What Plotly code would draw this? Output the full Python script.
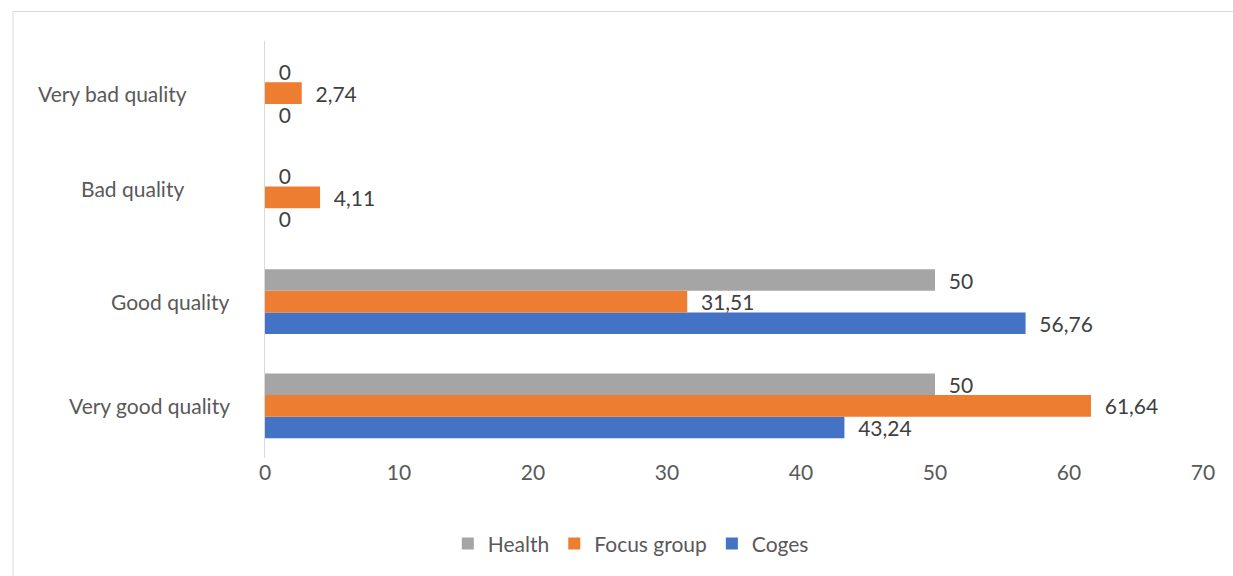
import plotly.graph_objects as go

# Response categories, bottom to top
categories = ["Very good quality", "Good quality", "Bad quality", "Very bad quality"]

# Percentages per group
health = [50, 50, 0, 0]
focus_group = [61.64, 31.51, 4.11, 2.74]
coges = [43.24, 56.76, 0, 0]

x_ticks = [0, 10, 20, 30, 40, 50, 60, 70]

FONT = "Lato"
SIZE = 21
PAD = "\u00a0\u00a0"

# Right edge (paper x) and vertical nudge of each category label
label_right = [-0.0352, -0.0352, -0.0842, -0.0810]
label_shift = [0, 0, 9, 0]


def fmt(v):
    return PAD + f"{v:g}".replace(".", ",")


series = [
    ("Coges", coges, "#4472C4"),
    ("Focus group", focus_group, "#ED7D31"),
    ("Health", health, "#A5A5A5"),
]

fig = go.Figure()
for name, vals, color in series:
    fig.add_trace(go.Bar(
        name=name,
        y=categories,
        x=vals,
        orientation="h",
        marker=dict(color=color, line=dict(width=0)),
        text=[fmt(v) for v in vals],
        textposition="outside",
        textfont=dict(family=FONT, size=SIZE, color="#404040"),
        constraintext="none",
        cliponaxis=False,
    ))

annotations = [
    dict(
        text=cat, xref="paper", yref="y", x=xr, y=cat, yshift=ys,
        xanchor="right", yanchor="middle", showarrow=False,
        font=dict(family=FONT, size=SIZE, color="#595959"),
    )
    for cat, xr, ys in zip(categories, label_right, label_shift)
]

fig.update_layout(
    width=1233,
    height=576,
    barmode="group",
    bargap=0.38,
    bargroupgap=0,
    plot_bgcolor="white",
    paper_bgcolor="white",
    margin=dict(l=265, r=30, t=41, b=110),
    font=dict(family=FONT, size=SIZE, color="#595959"),
    showlegend=True,
    legend=dict(
        orientation="h",
        traceorder="reversed",
        x=0.39,
        xanchor="center",
        y=-0.206,
        yanchor="middle",
        font=dict(family=FONT, size=SIZE, color="#595959"),
        itemwidth=30,
    ),
    xaxis=dict(
        range=[0, 70],
        tickvals=x_ticks,
        showgrid=False,
        zeroline=False,
        showline=False,
        ticks="",
        ticklabelstandoff=0,
        tickfont=dict(family=FONT, size=SIZE, color="#595959"),
    ),
    yaxis=dict(
        showgrid=False,
        zeroline=False,
        showline=True,
        linecolor="#D9D9D9",
        linewidth=1,
        ticks="",
        showticklabels=False,
    ),
    annotations=annotations,
    shapes=[dict(
        type="rect",
        xref="paper", yref="paper",
        x0=-0.2687, x1=1.04, y0=-0.32, y1=1.0706,
        line=dict(color="#D9D9D9", width=1),
        fillcolor="rgba(0,0,0,0)",
        layer="below",
    )],
)

fig.write_html("out.html")
